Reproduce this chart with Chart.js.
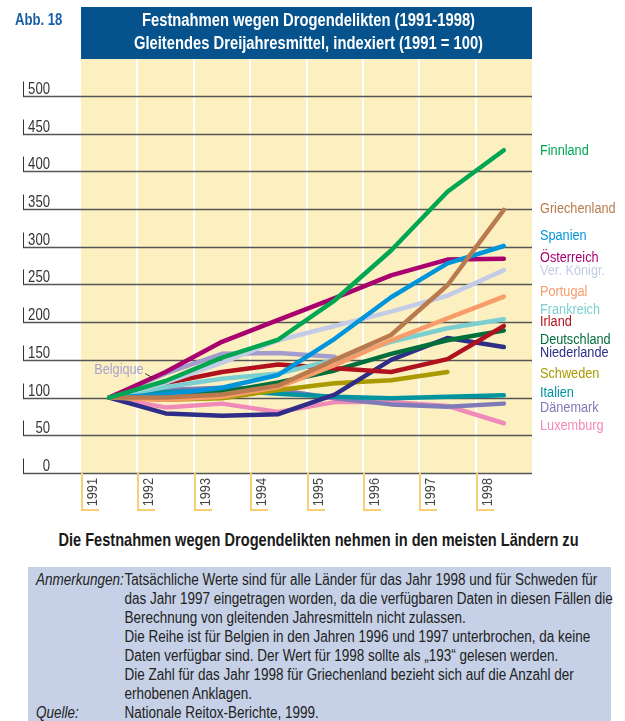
<!DOCTYPE html>
<html>
<head>
<meta charset="utf-8">
<script src="https://cdn.jsdelivr.net/npm/chart.js@4"></script>
<style>
  body { margin: 0; background: #fff; font-family: "Liberation Sans", Arial, sans-serif; }
  #wrap { position: relative; width: 625px; height: 721px; overflow: hidden; }
  #chart { position: absolute; left: 0; top: 0; }
  .narrow { white-space: nowrap; transform: scaleX(0.82); }
  #abb { position: absolute; left: 15px; top: 11px; color: #1b5fa6; font-weight: bold; font-size: 16px; transform-origin: 0 0; }
  #title { position: absolute; left: 81px; top: 7px; width: 451px; height: 52px; background: #05528c; }
  #titleText { position: absolute; left: -98px; width: 651px; top: 2px; color: #fff; font-weight: bold;
    font-size: 18px; text-align: center; line-height: 23px; transform-origin: 50% 0; }
  #sub { position: absolute; left: -94px; top: 530px; width: 825px; text-align: center; font-weight: bold;
    font-size: 17.8px; color: #1a1a1a; transform-origin: 50% 0; }
  #notes { position: absolute; left: 28px; top: 567px; width: 583px; height: 160px; background: #c6d1e7; }
  #notesText { position: absolute; left: 8px; top: 3px; font-size: 16px; color: #222; line-height: 19px;
    transform: scaleX(0.843); transform-origin: 0 0; white-space: nowrap; }
  #notesText div { position: relative; padding-left: 105px; }
  #notesText i { position: absolute; left: 0; }
</style>
</head>
<body>
<div id="wrap">
  <canvas id="chart" width="625" height="525"></canvas>
  <div id="abb" class="narrow">Abb. 18</div>
  <div id="title"><div id="titleText" class="narrow">Festnahmen wegen Drogendelikten (1991-1998)<br>Gleitendes Dreijahresmittel, indexiert (1991 = 100)</div></div>
  <div id="sub" class="narrow">Die Festnahmen wegen Drogendelikten nehmen in den meisten Ländern zu</div>
  <div id="notes">
    <div id="notesText">
      <div><i>Anmerkungen:</i>Tatsächliche Werte sind für alle Länder für das Jahr 1998 und für Schweden für</div>
      <div>das Jahr 1997 eingetragen worden, da die verfügbaren Daten in diesen Fällen die</div>
      <div>Berechnung von gleitenden Jahresmitteln nicht zulassen.</div>
      <div>Die Reihe ist für Belgien in den Jahren 1996 und 1997 unterbrochen, da keine</div>
      <div>Daten verfügbar sind. Der Wert für 1998 sollte als „193“ gelesen werden.</div>
      <div>Die Zahl für das Jahr 1998 für Griechenland bezieht sich auf die Anzahl der</div>
      <div>erhobenen Anklagen.</div>
      <div><i>Quelle:</i>Nationale Reitox-Berichte, 1999.</div>
    </div>
  </div>
</div>
<script>
// years on the x axis
const years = ["1991", "1992", "1993", "1994", "1995", "1996", "1997", "1998"];
const yTicks = [0, 50, 100, 150, 200, 250, 300, 350, 400, 450, 500];

// index values (1991 = 100)
const finnland = [100, 122, 153, 177, 229, 295, 373, 428];
const griechenland = [100, 100, 104, 116, 150, 183, 249, 349];
const spanien = [100, 104, 113, 130, 178, 233, 278, 301];
const oesterreich = [100, 134, 174, 203, 232, 262, 283, 284];
const verKoenigr = [100, 120, 146, 176, 195, 214, 235, 269];
const portugal = [100, 97, 101, 114, 143, 176, 205, 234];
const frankreich = [100, 114, 125, 132, 150, 174, 192, 204];
const irland = [100, 119, 134, 144, 139, 134, 151, 195];
const deutschland = [100, 103, 107, 120, 136, 158, 176, 189];
const niederlande = [100, 79, 76, 78, 104, 150, 179, 167];
const schweden = [100, 97, 99, 110, 119, 123, 134, null];
const italien = [100, 107, 110, 105, 101, 99, 101, 103];
const daenemark = [100, 110, 113, 110, 99, 91, 88, 92];
const luxemburg = [100, 87, 92, 81, 94, 94, 89, 66];
const belgique = [100, 132, 158, 159, 154, null, null, null];

const series = [
  { name: "Finnland", data: finnland, color: "#00a651", labelAt: 428 },
  { name: "Griechenland", data: griechenland, color: "#b97a4e", labelAt: 350 },
  { name: "Spanien", data: spanien, color: "#0095da", labelAt: 314 },
  { name: "Österreich", data: oesterreich, color: "#a8006e", labelAt: 286 },
  { name: "Ver. Königr.", data: verKoenigr, color: "#c3cce6", labelAt: 268 },
  { name: "Portugal", data: portugal, color: "#f89c6a", labelAt: 240 },
  { name: "Frankreich", data: frankreich, color: "#7ccfd1", labelAt: 216 },
  { name: "Irland", data: irland, color: "#b0111e", labelAt: 200 },
  { name: "Deutschland", data: deutschland, color: "#006f3c", labelAt: 177 },
  { name: "Niederlande", data: niederlande, color: "#2e2d88", labelAt: 159 },
  { name: "Schweden", data: schweden, color: "#a99a00", labelAt: 132 },
  { name: "Italien", data: italien, color: "#0093a0", labelAt: 107 },
  { name: "Dänemark", data: daenemark, color: "#7f7ab8", labelAt: 87 },
  { name: "Luxemburg", data: luxemburg, color: "#f08ab8", labelAt: 63 },
  { name: "Belgique", data: belgique, color: "#a29ccf", labelAt: null },
];

const FONT = '"Liberation Sans", Arial, sans-serif';
const SQUEEZE = 0.82;

// condensed text: squeeze horizontally around the anchor point
function narrowText(ctx, text, x, y) {
  ctx.save();
  ctx.translate(x, y);
  ctx.scale(SQUEEZE, 1);
  ctx.fillText(text, 0, 0);
  ctx.restore();
}

const backdrop = {
  id: "backdrop",
  beforeDatasetsDraw(chart) {
    const { ctx, chartArea: a, scales } = chart;
    const x = scales.x, y = scales.y;
    ctx.save();
    ctx.fillStyle = "#fdf0c0";
    ctx.fillRect(a.left, a.top, a.width, a.height);
    // white column separators
    ctx.fillStyle = "#ffffff";
    for (let i = 1; i < years.length; i++) {
      const bx = (x.getPixelForValue(i - 1) + x.getPixelForValue(i)) / 2;
      ctx.fillRect(Math.round(bx) - 1, a.top, 2, a.height);
    }
    // horizontal grid, ticks and labels
    ctx.font = "16px " + FONT;
    ctx.textAlign = "right";
    ctx.textBaseline = "alphabetic";
    yTicks.forEach((v) => {
      const py = Math.round(y.getPixelForValue(v)) + 0.5;
      ctx.strokeStyle = "#555";
      ctx.lineWidth = 1.5;
      ctx.beginPath();
      ctx.moveTo(23, py);
      ctx.lineTo(a.right, py);
      ctx.stroke();
      ctx.lineWidth = 1;
      ctx.strokeStyle = "#333";
      ctx.beginPath();
      ctx.moveTo(23.5, py);
      ctx.lineTo(23.5, py - 15);
      ctx.stroke();
      ctx.fillStyle = "#333";
      narrowText(ctx, String(v), 50, py - 3);
    });
    ctx.restore();
  },
  afterDraw(chart) {
    const { ctx, chartArea: a, scales } = chart;
    const x = scales.x, y = scales.y;
    ctx.save();
    // year labels with brackets
    for (let i = 0; i < years.length; i++) {
      const left = i === 0 ? a.left : Math.round((x.getPixelForValue(i - 1) + x.getPixelForValue(i)) / 2);
      ctx.strokeStyle = "#f8cf72";
      ctx.lineWidth = 2;
      ctx.beginPath();
      ctx.moveTo(left + 1, a.bottom);
      ctx.lineTo(left + 1, a.bottom + 37);
      ctx.lineTo(left + 18, a.bottom + 37);
      ctx.stroke();
      ctx.save();
      ctx.translate(left + 4, a.bottom + 5);
      ctx.rotate(-Math.PI / 2);
      ctx.font = "15.5px " + FONT;
      ctx.fillStyle = "#444";
      ctx.textAlign = "right";
      ctx.textBaseline = "top";
      narrowText(ctx, years[i], 0, 0);
      ctx.restore();
    }
    // series names on the right
    ctx.font = "15.5px " + FONT;
    ctx.textAlign = "left";
    ctx.textBaseline = "middle";
    series.forEach((s) => {
      if (s.labelAt === null) return;
      ctx.fillStyle = s.color;
      narrowText(ctx, s.name, a.right + 8, y.getPixelForValue(s.labelAt));
    });
    // Belgique label with leader
    const bx = x.getPixelForValue(0), by = y.getPixelForValue(belgique[0]);
    ctx.fillStyle = "#a7a3cf";
    narrowText(ctx, "Belgique", bx - 15, by - 28);
    ctx.strokeStyle = "#333";
    ctx.lineWidth = 1;
    ctx.beginPath();
    ctx.moveTo(bx + 36, by - 24);
    ctx.lineTo(bx + 43, by - 20);
    ctx.stroke();
    ctx.restore();
  },
};

new Chart(document.getElementById("chart"), {
  type: "line",
  data: {
    labels: years,
    datasets: series.map((s) => ({
      label: s.name,
      data: s.data,
      borderColor: s.color,
      backgroundColor: s.color,
      borderWidth: 4.5,
      borderCapStyle: "round",
      borderJoinStyle: "round",
      pointRadius: 0,
      tension: 0,
      spanGaps: false,
    })),
  },
  options: {
    responsive: false,
    animation: false,
    devicePixelRatio: 1,
    layout: { padding: { left: 81, right: 93, top: 59, bottom: 52 } },
    plugins: { legend: { display: false }, tooltip: { enabled: false } },
    scales: {
      x: { type: "category", offset: true, display: false },
      y: { min: 0, max: 549, display: false },
    },
  },
  plugins: [backdrop],
});
</script>
</body>
</html>
